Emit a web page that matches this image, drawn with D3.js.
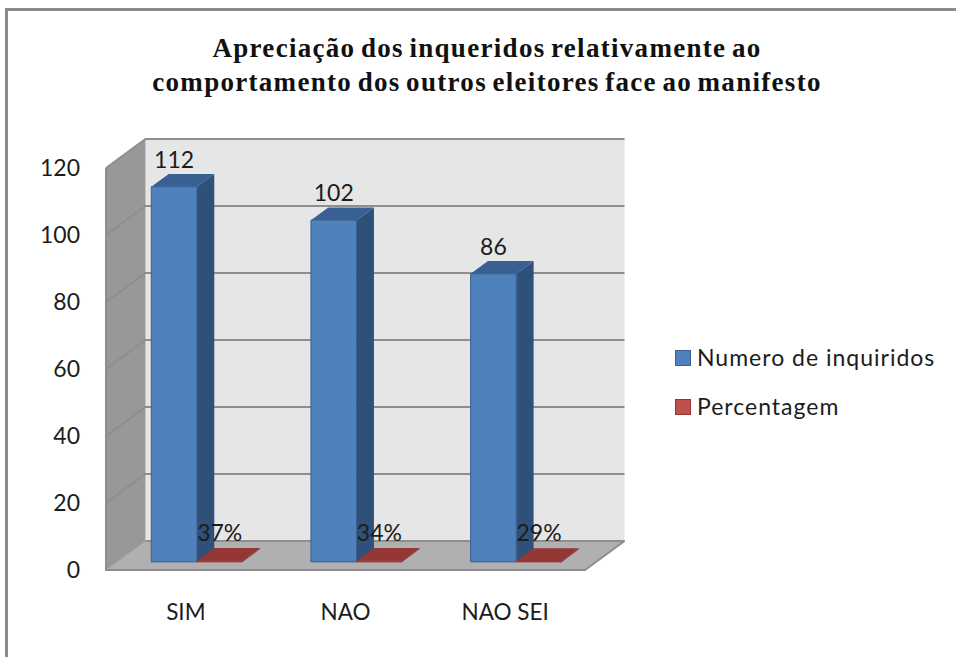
<!DOCTYPE html>
<html>
<head>
<meta charset="utf-8">
<script src="https://cdn.jsdelivr.net/npm/d3@7/dist/d3.min.js"></script>
<style>
  html, body { margin: 0; padding: 0; background: #fff; }
  svg { display: block; }
  text { font-family: Lato, "Open Sans", sans-serif; fill: #1c1c1c; }
</style>
</head>
<body>
<div id="chart"></div>
<script>
// values
var categories = ["SIM", "NAO", "NAO SEI"];
var seriesNames = ["Numero de inquiridos", "Percentagem"];
var inquiridos = [112, 102, 86];
var percentagem = [0.37, 0.34, 0.29];
var yTicks = [0, 20, 40, 60, 80, 100, 120];
var titleLines = ["Apreciação dos inqueridos relativamente ao", "comportamento dos outros eleitores face ao manifesto"];

var width = 956, height = 657;

var svg = d3.select("#chart")
    .append("svg")
    .attr("width", width)
    .attr("height", height);

// frame of the chart area, runs off the picture on the right and bottom
svg.append("rect")
    .attr("x", 6.5)
    .attr("y", 9.5)
    .attr("width", 970)
    .attr("height", 670)
    .attr("fill", "#fff")
    .attr("stroke", "#8a8a8a")
    .attr("stroke-width", 3);

// title
svg.selectAll(".title")
    .data(titleLines)
    .enter().append("text")
    .attr("class", "title")
    .attr("x", 487)
    .attr("y", function (d, i) { return 57 + i * 34; })
    .attr("text-anchor", "middle")
    .style("font-family", "'Liberation Serif', serif")
    .style("font-weight", "bold")
    .style("font-size", "27px")
    .style("letter-spacing", "1.3px")
    .style("word-spacing", "-2.5px")
    .style("fill", "#111")
    .text(function (d) { return d; });

// scales are for the front plane, depth is added by project()
var x = d3.scaleBand()
    .domain(categories)
    .range([106, 585]);

var xSeries = d3.scaleBand()
    .domain(seriesNames)
    .range([0, x.bandwidth()])
    .paddingOuter(0.75)
    .paddingInner(0);

var y = d3.scaleLinear()
    .domain([0, 120])
    .range([570, 168]);

var color = d3.scaleOrdinal()
    .domain(seriesNames)
    .range(["#4f81bd", "#c0504d"]);
var sideColor = d3.scaleOrdinal()
    .domain(seriesNames)
    .range(["#2f5179", "#7c3230"]);
var topColor = d3.scaleOrdinal()
    .domain(seriesNames)
    .range(["#386092", "#943634"]);

var depthX = 39.5, depthY = -29;
var barNear = 0.28, barFar = 0.72;

function project(px, value, t) {
    return [px + depthX * t, y(value) + depthY * t];
}
function poly(points) {
    return points.map(function (p) { return p.join(","); }).join(" ");
}

var xMin = x.range()[0], xMax = x.range()[1];
var gridColor = "#8e8e8e";

// back wall
svg.append("polygon")
    .attr("points", poly([project(xMin, 120, 1), project(xMax, 120, 1), project(xMax, 0, 1), project(xMin, 0, 1)]))
    .attr("fill", "#e6e6e6");

// left wall
svg.append("polygon")
    .attr("points", poly([project(xMin, 120, 0), project(xMin, 120, 1), project(xMin, 0, 1), project(xMin, 0, 0)]))
    .attr("fill", "#989898");

// floor
svg.append("polygon")
    .attr("points", poly([project(xMin, 0, 0), project(xMin, 0, 1), project(xMax, 0, 1), project(xMax, 0, 0)]))
    .attr("fill", "#b0b0b0")
    .attr("stroke", "#a0a0a0")
    .attr("stroke-width", 1);

// gridlines on both walls
var grid = svg.append("g");
yTicks.forEach(function (t) {
    var a = project(xMin, t, 0), b = project(xMin, t, 1), c = project(xMax, t, 1);
    grid.append("polyline")
        .attr("points", poly(t === 0 ? [b, c] : [a, b, c]))
        .attr("fill", "none")
        .attr("stroke", gridColor)
        .attr("stroke-width", 2);
});

// front edge of floor and left wall
svg.append("polyline")
    .attr("points", poly([project(xMin, 120, 0), project(xMin, 0, 0), project(xMax, 0, 0), project(xMax, 0, 1)]))
    .attr("fill", "none")
    .attr("stroke", gridColor)
    .attr("stroke-width", 2);

// one entry per bar, red first drawn after blue so the floor piece sits on top
var bars = [];
categories.forEach(function (c, i) {
    bars.push({ cat: c, name: seriesNames[0], value: inquiridos[i] });
    bars.push({ cat: c, name: seriesNames[1], value: percentagem[i] });
});

var barG = svg.selectAll(".bar")
    .data(bars)
    .enter().append("g")
    .attr("class", "bar");

function left(d) { return x(d.cat) + xSeries(d.name); }
function right(d) { return left(d) + xSeries.bandwidth(); }

// side face
barG.append("polygon")
    .attr("points", function (d) {
        return poly([project(right(d), d.value, barNear), project(right(d), d.value, barFar),
            project(right(d), 0, barFar), project(right(d), 0, barNear)]);
    })
    .attr("fill", function (d) { return sideColor(d.name); });

// top face
barG.append("polygon")
    .attr("points", function (d) {
        return poly([project(left(d), d.value, barNear), project(left(d), d.value, barFar),
            project(right(d), d.value, barFar), project(right(d), d.value, barNear)]);
    })
    .attr("fill", function (d) { return topColor(d.name); });

// front face
barG.append("polygon")
    .attr("points", function (d) {
        return poly([project(left(d), d.value, barNear), project(right(d), d.value, barNear),
            project(right(d), 0, barNear), project(left(d), 0, barNear)]);
    })
    .attr("fill", function (d) { return color(d.name); })
    .attr("stroke", function (d) { return topColor(d.name); })
    .attr("stroke-width", 1);

// data labels
svg.selectAll(".label")
    .data(bars)
    .enter().append("text")
    .attr("class", "label")
    .attr("x", function (d) {
        return project(left(d), d.value, barNear)[0] + xSeries.bandwidth() / 2;
    })
    .attr("y", function (d) {
        return d.name === seriesNames[0] ? project(0, d.value, barNear)[1] - 19 : 541;
    })
    .attr("text-anchor", "middle")
    .style("font-size", "23px")
    .text(function (d) {
        return d.name === seriesNames[0] ? d.value : d3.format(".0%")(d.value);
    });

// y axis
var yAxis = svg.append("g")
    .attr("transform", "translate(92,0)")
    .call(d3.axisLeft(y).tickValues(yTicks).tickSize(0));
yAxis.select(".domain").remove();
yAxis.selectAll("text")
    .attr("x", -12)
    .style("font-family", "Lato, sans-serif")
    .style("font-size", "23px");

// x axis
var xAxis = svg.append("g")
    .attr("transform", "translate(0,600)")
    .call(d3.axisBottom(x).tickSize(0));
xAxis.select(".domain").remove();
xAxis.selectAll("text")
    .attr("y", 4)
    .style("font-family", "Lato, sans-serif")
    .style("font-size", "22.5px");

// legend
var legend = svg.selectAll(".legend")
    .data(seriesNames)
    .enter().append("g")
    .attr("class", "legend")
    .attr("transform", function (d, i) { return "translate(675," + (350 + i * 49) + ")"; });

legend.append("rect")
    .attr("x", 0.5)
    .attr("y", 0.5)
    .attr("width", 15)
    .attr("height", 15)
    .attr("fill", function (d) { return color(d); })
    .attr("stroke", function (d) { return topColor(d); });

legend.append("text")
    .attr("x", 22)
    .attr("y", 16)
    .style("font-size", "23px")
    .style("letter-spacing", "1px")
    .text(function (d) { return d; });
</script>
</body>
</html>
